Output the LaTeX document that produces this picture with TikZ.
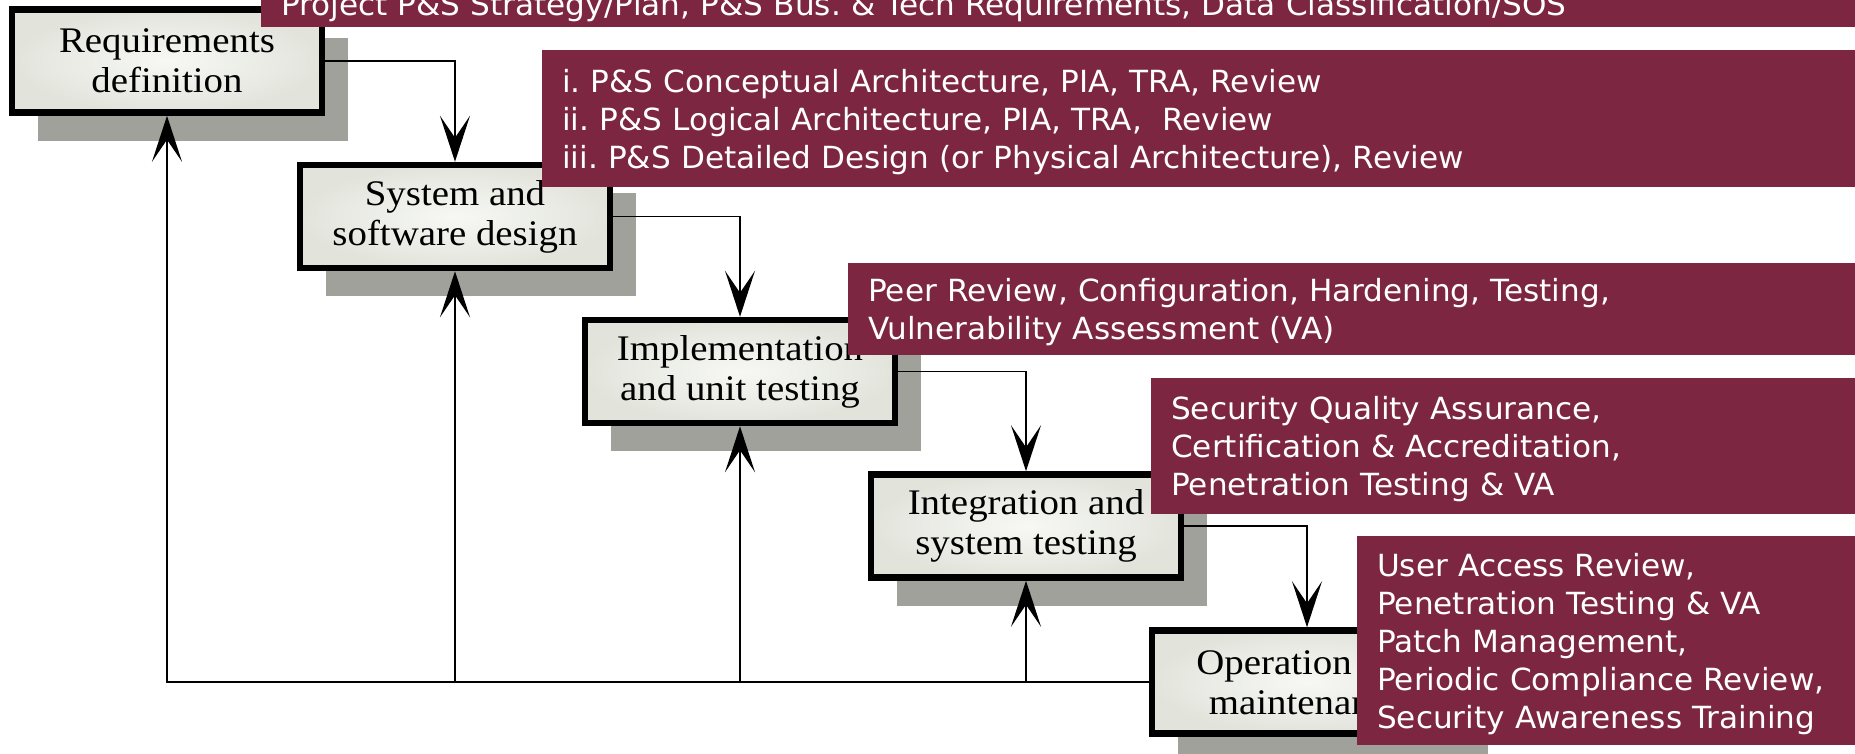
\documentclass[tikz,border=0pt]{standalone}
\usepackage{fontspec}
\setmainfont{Liberation Serif}
\newfontfamily\notefont[FakeStretch=1.02]{DejaVu Sans}
\newfontfamily\stagefont[FakeStretch=1.08]{Liberation Serif}
\usetikzlibrary{arrows.meta, positioning, shadows}
\frenchspacing

\definecolor{noteRed}{RGB}{124,38,66}
\definecolor{stageShadow}{RGB}{160,161,155}
\definecolor{stageFill}{RGB}{226,228,220}
\definecolor{stageLight}{RGB}{247,248,244}

\begin{document}
\begin{tikzpicture}[
  x=1pt, y=-1pt,
  >={Stealth[length=46pt, width=30pt, inset=22pt]},
  stage/.style={draw=black, line width=6.5pt, minimum width=310pt, minimum height=103pt,
    inner color=stageLight, outer color=stageFill, align=center,
    font=\stagefont\fontsize{36}{40}\selectfont,
    drop shadow={shadow xshift=26pt, shadow yshift=-28pt, fill=stageShadow, opacity=1}},
  note/.style={fill=noteRed, text=white, align=left, inner xsep=20pt,
    font=\notefont\fontsize{30.5}{38}\selectfont, anchor=north west},
  tallnote/.style={note, execute at begin node=\rule{0pt}{29pt}},
  flow/.style={->, line width=1.6pt, black}
]
\useasboundingbox (0,0) rectangle (1855,753);

% Waterfall stages
\node[stage] (reqDef) at (167,61) {Requirements\\definition};
\node[stage, on grid, below right=155.5pt and 288pt of reqDef] (sysDesign) {System and\\software design};
\node[stage, on grid, below right=155pt and 285pt of sysDesign] (implTest) {Implementation\\and unit testing};
\node[stage, on grid, below right=154.5pt and 286pt of implTest] (integTest) {Integration and\\system testing};
\node[stage, on grid, below right=156pt and 281pt of integTest] (opMaint) {Operation and\\maintenance};

% Flows down the cascade
\draw[flow] (reqDef.east) -| (sysDesign.north);
\draw[flow] (sysDesign.east) -| (implTest.north);
\draw[flow] (implTest.east) -| (integTest.north);
\draw[flow] (integTest.east) -| (opMaint.north);

% Feedback back up to each stage
\draw[flow] (opMaint.west) -| (reqDef.south);
\foreach \s in {sysDesign, implTest, integTest}
  \draw[flow] (\s |- opMaint.west) -- (\s.south);

% Security activities per stage
\node[note, anchor=south west, inner ysep=5pt, text width=1564pt] (noteReq) at (261,27)
  {Project P\&S Strategy/Plan, P\&S Bus. \& Tech Requirements, Data Classification/SOS};
\node[tallnote, minimum height=137pt, text width=1283pt] (noteDesign) at (542,50)
  {i. P\&S Conceptual Architecture, PIA, TRA, Review\\
   ii. P\&S Logical Architecture, PIA, TRA,~ Review\\
   iii. P\&S Detailed Design (or Physical Architecture), Review};
\node[tallnote, minimum height=92pt, text width=977pt] (noteImpl) at (848,263)
  {Peer Review, Configuration, Hardening, Testing,\\
   Vulnerability Assessment (VA)};
\node[tallnote, minimum height=136pt, text width=674pt] (noteInteg) at (1151,378)
  {Security Quality Assurance,\\
   Certification \& Accreditation,\\
   Penetration Testing \& VA};
\node[tallnote, minimum height=209pt, text width=468pt] (noteOps) at (1357,536)
  {User Access Review,\\
   Penetration Testing \& VA\\
   Patch Management,\\
   Periodic Compliance Review,\\
   Security Awareness Training};
\end{tikzpicture}
\end{document}
